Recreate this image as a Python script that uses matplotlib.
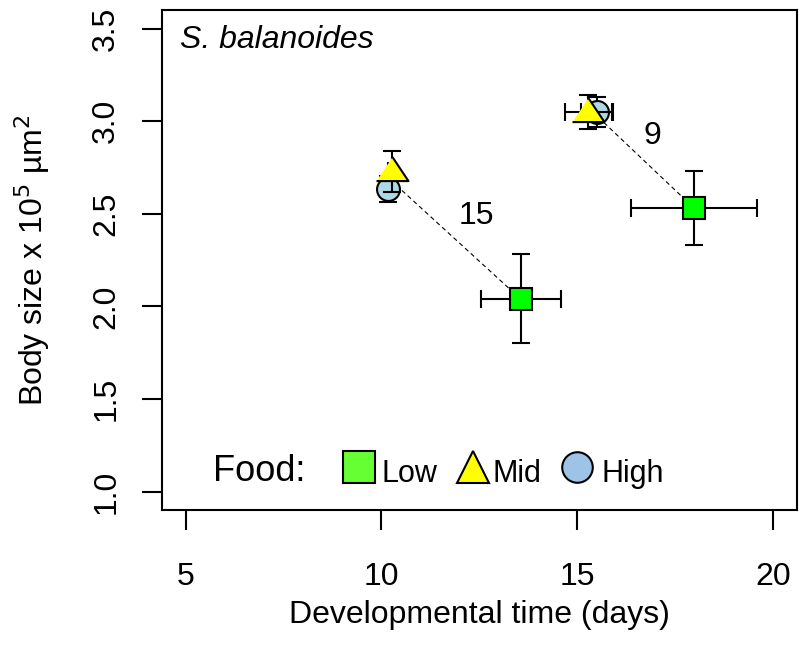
import matplotlib
matplotlib.use('Agg')
import matplotlib.pyplot as plt
import numpy as np

plt.rcParams['font.family'] = ['Liberation Sans', 'DejaVu Sans']

# dane: dwie grupy temperatur (15 i 9), trzy poziomy pokarmu
food = ['Low', 'Mid', 'High']
groups = ['15', '9']
dev_time = {'Low': [13.55, 17.98], 'Mid': [10.28, 15.28], 'High': [10.18, 15.50]}
dev_err = {'Low': [1.02, 1.60], 'Mid': [0.10, 0.60], 'High': [0.10, 0.40]}
body = {'Low': [2.04, 2.53], 'Mid': [2.73, 3.05], 'High': [2.635, 3.05]}
body_err = {'Low': [0.24, 0.20], 'Mid': [0.11, 0.09], 'High': [0.07, 0.08]}
group_label_x = [12.42, 16.91]
group_label_y = [2.49, 2.92]

point_colors = {'Low': '#00FF00', 'Mid': '#FFFF00', 'High': '#ADD8E6'}
legend_colors = {'Low': '#66FF33', 'Mid': '#FFFF00', 'High': '#9DC3E6'}
tri = [(-1, -0.6), (1, -0.6), (0, 0.9)]
markers = {'Low': 's', 'Mid': tri, 'High': 'o'}
leg_markers = {'Low': 's', 'Mid': '^', 'High': 'o'}
msize = {'Low': 15.5, 'Mid': 23, 'High': 16.5}

fig = plt.figure(figsize=(8, 6.47), dpi=100)
ax = fig.add_axes([0.2025, 0.2117, 0.7935, 0.7728])

# linie przerywane: od sredniej Mid/High do Low
for i in range(len(groups)):
    x0 = np.mean([dev_time['Mid'][i], dev_time['High'][i]])
    y0 = np.mean([body['Mid'][i], body['High'][i]])
    ax.plot([x0, dev_time['Low'][i]], [y0, body['Low'][i]], color='black',
            lw=0.8, ls=(0, (4, 3)), zorder=1)

z = 2
for f in ['High', 'Mid', 'Low']:
    ax.errorbar(dev_time[f], body[f], xerr=dev_err[f], yerr=body_err[f],
                fmt='none', ecolor='black', elinewidth=1.5, capsize=6.5,
                capthick=1.5, zorder=z)
    ax.plot(dev_time[f], body[f], ls='none', marker=markers[f], ms=msize[f],
            mfc=point_colors[f], mec='black', mew=1.5, zorder=z + 1)
    z += 2

for i, g in enumerate(groups):
    ax.text(group_label_x[i], group_label_y[i], g, fontsize=23,
            ha='center', va='center')

ax.text(0.028, 0.924, 'S. balanoides', transform=ax.transAxes, fontsize=23,
        style='italic', va='baseline')

# legenda rysowana recznie
ax.text(0.080, 0.058, 'Food:', transform=ax.transAxes, fontsize=26, va='baseline')
leg_mx = [0.310, 0.490, 0.654]
leg_tx = [0.346, 0.521, 0.693]
leg_ms = {'Low': 23, 'Mid': 23, 'High': 22}
for i, f in enumerate(food):
    ax.plot([leg_mx[i]], [0.087], transform=ax.transAxes, ls='none',
            marker=leg_markers[f], ms=leg_ms[f], mfc=legend_colors[f], mec='black',
            mew=1.5, clip_on=False)
    ax.text(leg_tx[i], 0.056, f, transform=ax.transAxes, fontsize=22,
            va='baseline')

ax.set_xlim(4.4, 20.6)
ax.set_ylim(0.9, 3.6)
ax.set_xticks([5, 10, 15, 20])
ax.set_yticks([1.0, 1.5, 2.0, 2.5, 3.0, 3.5])
ax.set_yticklabels(['1.0', '1.5', '2.0', '2.5', '3.0', '3.5'], rotation=90,
                   va='center')
ax.tick_params(axis='both', direction='out', length=14.4, width=1.5,
               labelsize=23)
ax.tick_params(axis='x', pad=23)
ax.tick_params(axis='y', pad=15)
for s in ax.spines.values():
    s.set_linewidth(1.5)

ax.set_xlabel('Developmental time (days)', fontsize=23, labelpad=6)
ax.set_ylabel('Body size x 10$^{5}$ \u00b5m$^{2}$', fontsize=23, labelpad=28)

fig.savefig('out.png', dpi=100)
